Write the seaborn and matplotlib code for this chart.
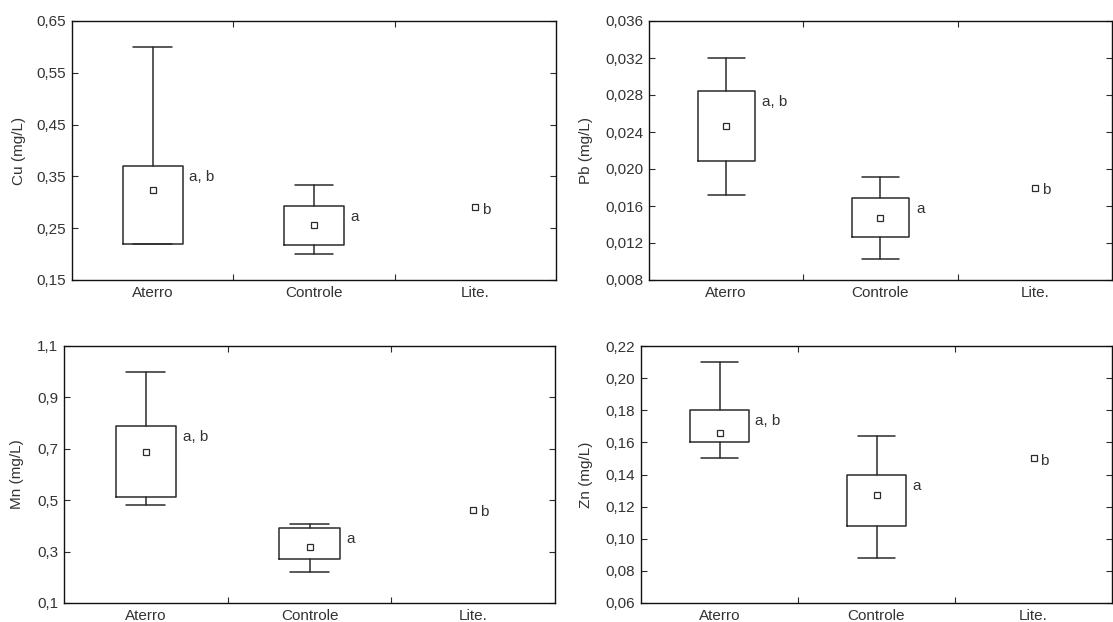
"""Boxplots of metal concentrations by site (Statistica style)."""

import matplotlib

matplotlib.use("Agg")

import matplotlib.pyplot as plt
import seaborn as sns
from matplotlib.transforms import blended_transform_factory

GROUPS = ["Aterro", "Controle", "Lite."]
LETTERS = ["a, b", "a", "b"]

# centre square for all groups; box / whisker values only for the first two
CU_CENTER = [0.323, 0.256, 0.291]
CU_LOW = [0.219, 0.200]
CU_Q1 = [0.219, 0.218]
CU_Q3 = [0.371, 0.293]
CU_HIGH = [0.600, 0.333]
CU_TICKS = [0.15, 0.25, 0.35, 0.45, 0.55, 0.65]

PB_CENTER = [0.0247, 0.0147, 0.0180]
PB_LOW = [0.0172, 0.0103]
PB_Q1 = [0.0209, 0.0126]
PB_Q3 = [0.0284, 0.0169]
PB_HIGH = [0.0320, 0.0191]
PB_TICKS = [0.008, 0.012, 0.016, 0.020, 0.024, 0.028, 0.032, 0.036]

MN_CENTER = [0.688, 0.318, 0.463]
MN_LOW = [0.481, 0.221]
MN_Q1 = [0.513, 0.272]
MN_Q3 = [0.789, 0.392]
MN_HIGH = [1.000, 0.408]
MN_TICKS = [0.1, 0.3, 0.5, 0.7, 0.9, 1.1]

ZN_CENTER = [0.166, 0.127, 0.150]
ZN_LOW = [0.150, 0.088]
ZN_Q1 = [0.1605, 0.108]
ZN_Q3 = [0.180, 0.140]
ZN_HIGH = [0.210, 0.164]
ZN_TICKS = [0.06, 0.08, 0.10, 0.12, 0.14, 0.16, 0.18, 0.20, 0.22]

PANELS = [
    ("Cu (mg/L)", CU_CENTER, CU_LOW, CU_Q1, CU_Q3, CU_HIGH, CU_TICKS, 2),
    ("Pb (mg/L)", PB_CENTER, PB_LOW, PB_Q1, PB_Q3, PB_HIGH, PB_TICKS, 3),
    ("Mn (mg/L)", MN_CENTER, MN_LOW, MN_Q1, MN_Q3, MN_HIGH, MN_TICKS, 1),
    ("Zn (mg/L)", ZN_CENTER, ZN_LOW, ZN_Q1, ZN_Q3, ZN_HIGH, ZN_TICKS, 2),
]

W, H = 1113, 622
# axes rectangles in pixels: left, top, right, bottom
RECTS = [(72, 21, 556, 280), (649, 21, 1112, 280), (64, 346, 555, 603), (641, 346, 1112, 603)]
YLABEL_X = [26, 593, 24, 593]

LINE = "#2b2b2b"
TEXT = "#333333"
BOX_WIDTH = 0.37
CAP_WIDTH = 0.24

sns.set_theme(style="ticks")
plt.rcParams["font.family"] = ["Liberation Sans", "DejaVu Sans"]
plt.rcParams["font.size"] = 11


def draw_panel(fig, ax, label, center, low, q1, q3, high, ticks, decimals, label_x):
    stats = [
        {"whislo": lo, "q1": a, "med": c, "q3": b, "whishi": hi, "fliers": []}
        for lo, a, c, b, hi in zip(low, q1, center, q3, high)
    ]
    line_kw = {"color": LINE, "linewidth": 1.1}
    ax.bxp(
        stats,
        positions=list(range(len(stats))),
        widths=BOX_WIDTH,
        capwidths=CAP_WIDTH,
        manage_ticks=False,
        showfliers=False,
        boxprops=line_kw,
        whiskerprops=line_kw,
        capprops=line_kw,
        medianprops={"visible": False},
    )
    sns.pointplot(
        x=GROUPS,
        y=center,
        ax=ax,
        linestyle="none",
        marker="s",
        color=LINE,
        markerfacecolor="white",
        markeredgecolor=LINE,
        markersize=4,
        markeredgewidth=0.9,
        errorbar=None,
        zorder=5,
    )

    for i, text in enumerate(LETTERS):
        if i < len(stats):
            ax.annotate(text, xy=(i + BOX_WIDTH / 2, q3[i]), xytext=(5, -3),
                        textcoords="offset points", ha="left", va="top",
                        color=TEXT, fontsize=11)
        else:
            ax.annotate(text, xy=(i, center[i]), xytext=(5, -2),
                        textcoords="offset points", ha="left", va="center",
                        color=TEXT, fontsize=11)

    ax.set_xlim(-0.5, len(GROUPS) - 0.5)
    ax.set_xticks(range(len(GROUPS)), GROUPS)
    ax.set_xticks([0.5, 1.5], minor=True)
    ax.set_ylim(ticks[0], ticks[-1])
    ax.set_yticks(ticks, [f"{t:.{decimals}f}".replace(".", ",") for t in ticks])
    ax.tick_params(axis="x", which="major", length=0, pad=4, labelsize=11, labelcolor=TEXT)
    ax.tick_params(axis="x", which="minor", direction="in", length=4, width=0.8,
                   top=True, bottom=True, color=LINE)
    ax.tick_params(axis="y", direction="in", length=4, width=0.8, left=True, right=True,
                   pad=4, labelsize=11, labelcolor=TEXT, color=LINE)
    ax.set_xlabel("")
    ax.set_ylabel(label, fontsize=11, color=TEXT)
    ax.yaxis.set_label_coords(label_x / W, 0.5,
                              transform=blended_transform_factory(fig.transFigure, ax.transAxes))
    for spine in ax.spines.values():
        spine.set_visible(True)
        spine.set_color("#111111")
        spine.set_linewidth(1.0)


def main():
    fig = plt.figure(figsize=(W / 100, H / 100), dpi=100)
    fig.patch.set_facecolor("white")
    for (label, center, low, q1, q3, high, ticks, decimals), rect, lx in zip(PANELS, RECTS, YLABEL_X):
        left, top, right, bottom = rect
        ax = fig.add_axes([left / W, 1 - bottom / H, (right - left) / W, (bottom - top) / H])
        ax.set_facecolor("white")
        draw_panel(fig, ax, label, center, low, q1, q3, high, ticks, decimals, lx)
    fig.savefig("out.png", dpi=100)
    plt.close(fig)


if __name__ == "__main__":
    main()
